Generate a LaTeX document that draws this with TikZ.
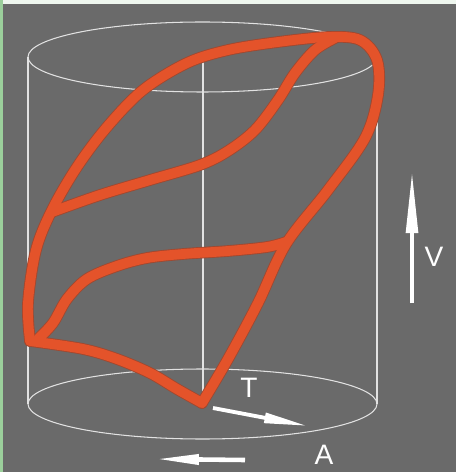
\documentclass[tikz,border=0pt]{standalone}
\usepackage{fontspec}
\setmainfont{Liberation Sans}
\usetikzlibrary{arrows.meta}

\definecolor{bggray}{HTML}{6A6A6A}
\definecolor{edgegreen}{HTML}{9BCF9B}
\definecolor{topstrip}{HTML}{EEF6EE}
\definecolor{loopred}{HTML}{E4532A}
\definecolor{loopdark}{HTML}{A04830}
\definecolor{wirecol}{HTML}{E2E2E2}

% the four branches of the surface curve
\newcommand{\loopcurves}[1]{%
    \draw[#1] plot[smooth, tension=0.55] coordinates {(202,403) (228,359) (258,303) (286,244) (328,190) (365,138) (378,95) (377,60) (360,40) (328,37) (278,42) (228,50) (187,63) (143,90) (107,127) (77,167) (52,210) (36,250) (28,303) (30,341)};
    \draw[#1] plot[smooth, tension=0.55] coordinates {(30,341) (83,349) (117,359) (150,373) (177,389) (202,403)};
    \draw[#1] plot[smooth, tension=0.55] coordinates {(52,212) (100,195) (150,180) (200,165) (228,151) (255,130) (278,100) (295,73) (315,50) (335,38)};
    \draw[#1] plot[smooth, tension=0.55] coordinates {(38,339) (53,323) (67,299) (87,279) (117,266) (147,258) (183,254) (228,251) (267,247) (286,242)};
}

\begin{document}
\begin{tikzpicture}[
        x=0.02cm, y=-0.02cm,
        wire/.style={draw=wirecol, line width=0.6pt},
        curveback/.style={draw=loopdark, line width=6.6pt, line cap=round, line join=round},
        curvefront/.style={draw=loopred, line width=5.6pt, line cap=round, line join=round},
        axisarrow/.style={draw=white, line width=2.6pt},
        every node/.style={text=white, font=\fontsize{16}{18}\selectfont}
    ]

    \useasboundingbox (0,0) rectangle (456,472);
    \fill[bggray] (0,0) rectangle (456,472);
    \fill[edgegreen] (0,0) rectangle (3,472);
    \fill[topstrip] (3,0) rectangle (456,4);

    % cylinder
    \draw[wire] (202.5,57) ellipse [x radius=174.5, y radius=35];
    \draw[wire] (202.5,404) ellipse [x radius=174.5, y radius=35];
    \draw[wire] (28,57) -- (28,404);
    \draw[wire] (377,57) -- (377,404);
    \draw[wire] (203,57) -- (203,404);

    \loopcurves{curveback}
    \loopcurves{curvefront}

    % axes
    \coordinate (Vfoot) at (412,303);
    \coordinate (Vtip) at (412,170);
    \coordinate (Tfoot) at (213,408);
    \coordinate (Ttip) at (308,426);
    \coordinate (Afoot) at (245,460);
    \coordinate (Atip) at (155,459);

    \draw[axisarrow, -{Triangle[length=36pt, width=6.5pt]}] (Vfoot) -- (Vtip);
    \draw[axisarrow, line width=2.2pt, -{Triangle[length=25pt, width=5.5pt]}] (Tfoot) -- (Ttip);
    \draw[axisarrow, -{Triangle[length=25pt, width=5.5pt]}] (Afoot) -- (Atip);

    \node (labV) at (434,257) {V};
    \node (labT) at (249,388) {T};
    \node (labA) at (324,455) {A};
\end{tikzpicture}
\end{document}
